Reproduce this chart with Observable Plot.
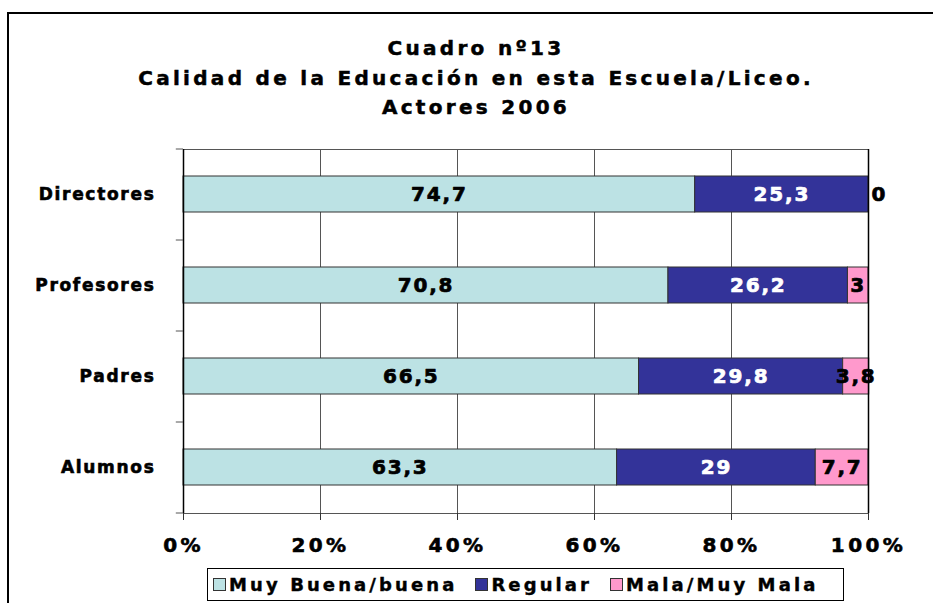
<!DOCTYPE html>
<html>
<head>
<meta charset="utf-8">
<script src="https://cdn.jsdelivr.net/npm/d3@7"></script>
<script src="https://cdn.jsdelivr.net/npm/@observablehq/plot@0.6"></script>
<style>
  html, body { margin: 0; padding: 0; background: #fff; width: 933px; height: 603px; overflow: hidden; }
  #frame { position: absolute; left: 7px; top: 12px; width: 1000px; height: 700px; border: 2px solid #000; box-sizing: border-box; }
  #title { position: absolute; left: 7px; width: 938px; top: 34px; text-align: center;
           font-family: "DejaVu Sans"; font-weight: 700; font-size: 20px; letter-spacing: 3.3px; line-height: 29.5px;
           color: #000; -webkit-text-stroke: 0.5px #000; }
  #chart { position: absolute; left: 0; top: 130px; }
  #legend { position: absolute; left: 207px; top: 568px; width: 637px; height: 33px; box-sizing: border-box;
            border: 1px solid #000; display: flex; align-items: center; padding-left: 5px; white-space: nowrap;
            font-family: "DejaVu Sans"; font-weight: 700; font-size: 18px; letter-spacing: 3.1px;
            color: #000; background: #fff; -webkit-text-stroke: 0.4px #000; }
  #legend .item { display: flex; align-items: center; margin-right: 18px; flex-shrink: 0; white-space: nowrap; }
  #legend .sw { width: 11px; height: 11px; border: 1px solid #333; margin-right: 3px; flex-shrink: 0; }
  svg text { font-family: "DejaVu Sans"; font-weight: 700; }
  svg g[aria-label="x-axis tick label"] text { letter-spacing: 3.4px; stroke: #000; stroke-width: 0.6px; paint-order: stroke; }
  svg g[aria-label="y-axis tick label"] text { letter-spacing: 1.7px; stroke: #000; stroke-width: 0.6px; paint-order: stroke; }
  svg g[aria-label="text"] text { letter-spacing: 1.8px; }
</style>
</head>
<body>
<div id="frame"></div>
<div id="title">Cuadro nº13<br>Calidad de la Educación en esta Escuela/Liceo.<br>Actores 2006</div>
<div id="chart"></div>
<div id="legend"></div>
<script>
const actors = ["Directores", "Profesores", "Padres", "Alumnos"];
const categories = ["Muy Buena/buena", "Regular", "Mala/Muy Mala"];
const muyBuena = [74.7, 70.8, 66.5, 63.3];
const regular = [25.3, 26.2, 29.8, 29];
const mala = [0, 3, 3.8, 7.7];
const colors = ["#BCE2E4", "#333399", "#FF99CC"];
const xTicks = [0, 20, 40, 60, 80, 100];

const series = [muyBuena, regular, mala];
const data = actors.flatMap((a, i) => categories.map((c, j) => ({actor: a, cat: c, value: series[j][i]})));
const fmt = v => String(v).replace(".", ",");
const labelColor = d => d.cat === categories[1] ? "white" : "black";

const plot = Plot.plot({
  width: 933,
  height: 430,
  marginTop: 19,
  marginBottom: 47,
  marginLeft: 183,
  marginRight: 65,
  style: {fontFamily: "DejaVu Sans", fontWeight: "700", color: "#000", background: "transparent"},
  x: {domain: [xTicks[0], xTicks[xTicks.length - 1]], ticks: xTicks},
  y: {domain: actors, paddingInner: 0.6, paddingOuter: 0.3},
  color: {domain: categories, range: colors},
  marks: [
    Plot.ruleX(xTicks.slice(1, -1), {stroke: "#555", strokeWidth: 1}),
    Plot.frame({stroke: "#555", strokeWidth: 1}),
    Plot.barX(data, Plot.stackX({x: "value", y: "actor", fill: "cat", stroke: "#333", strokeWidth: 1})),
    Plot.ruleX([xTicks[0], xTicks[xTicks.length - 1]], {stroke: "#000", strokeWidth: 1.5}),
    Plot.ruleY(actors, {y: d => d, x1: -1.05, x2: 0, dy: -45.5, stroke: "#555"}),
    Plot.ruleY(actors.slice(-1), {y: d => d, x1: -1.05, x2: 0, dy: 45.5, stroke: "#555"}),
    Plot.axisX({ticks: xTicks, tickFormat: d => d + "%", tickSize: 7, tickPadding: 17, fontSize: 20, fontWeight: 700, stroke: "#333", label: null}),
    Plot.axisY({tickSize: 0, tickPadding: 28, fontSize: 17, fontWeight: 700, label: null}),
    Plot.text(data, Plot.stackX({
      x: "value", y: "actor",
      text: d => d.value ? fmt(d.value) : "",
      fill: labelColor, stroke: labelColor, strokeWidth: 0.7,
      fontSize: 20, fontWeight: 700
    })),
    Plot.text(data, Plot.stackX2({
      x: "value", y: "actor",
      text: d => d.value === 0 ? fmt(d.value) : "",
      textAnchor: "start", dx: 3, fill: "black", stroke: "black", strokeWidth: 0.7,
      fontSize: 20, fontWeight: 700
    }))
  ]
});
document.getElementById("chart").appendChild(plot);

const legend = document.getElementById("legend");
categories.forEach((c, i) => {
  const item = document.createElement("div");
  item.className = "item";
  const sw = document.createElement("div");
  sw.className = "sw";
  sw.style.background = colors[i];
  const t = document.createElement("span");
  t.textContent = c;
  item.appendChild(sw);
  item.appendChild(t);
  legend.appendChild(item);
});
</script>
</body>
</html>
